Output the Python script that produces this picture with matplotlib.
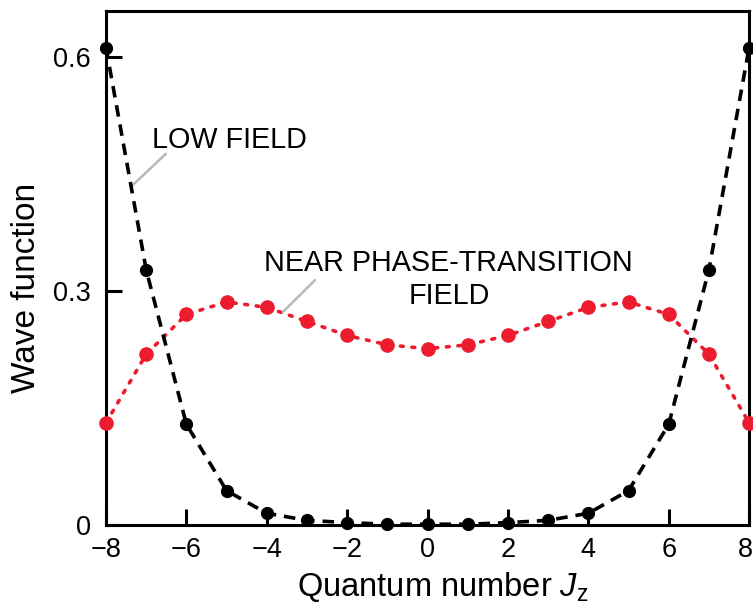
import numpy as np
import matplotlib.pyplot as plt
from matplotlib.transforms import ScaledTranslation

plt.rcParams['font.family'] = ['Liberation Sans', 'DejaVu Sans']
plt.rcParams['mathtext.fontset'] = 'custom'
plt.rcParams['mathtext.rm'] = 'Liberation Sans'
plt.rcParams['mathtext.it'] = 'Liberation Sans:italic'

# quantum number Jz and wave function amplitudes
jz = np.arange(-8, 9)
low_field = [0.612, 0.327, 0.129, 0.044, 0.015, 0.006, 0.003, 0.001, 0.001,
             0.001, 0.003, 0.006, 0.015, 0.044, 0.129, 0.327, 0.612]
near_transition = [0.131, 0.219, 0.270, 0.286, 0.279, 0.261, 0.243, 0.231, 0.226,
                   0.231, 0.243, 0.261, 0.279, 0.286, 0.270, 0.219, 0.131]

xticks = [-8, -6, -4, -2, 0, 2, 4, 6, 8]
xticklabels = ['\u22128', '\u22126', '\u22124', '\u22122', '0', '2', '4', '6', '8']
yticks = [0, 0.3, 0.6]
yticklabels = ['0', '0.3', '0.6']

fig = plt.figure(figsize=(7.53, 6.07), dpi=100)
ax = fig.add_axes([0.1408, 0.1351, 0.854, 0.8468])

red = '#ec1c2e'
ax.plot(jz, near_transition, color=red, lw=2.6, linestyle=(0, (0.8, 2.4)),
        dash_capstyle='round', marker='o', ms=9.5, mfc=red, mec=red, zorder=3,
        clip_on=False)
ax.plot(jz, low_field, color='black', lw=2.6, linestyle=(0, (3.2, 2.2)),
        marker='o', ms=8.5, mfc='black', mec='black', zorder=4, clip_on=False)

# leader lines and labels
gray = '#b8b8b8'
ax.annotate('', xy=(-7.33, 0.436), xytext=(-6.51, 0.476),
            arrowprops=dict(arrowstyle='-', color=gray, lw=1.8, shrinkA=0, shrinkB=0))
ax.text(-6.86, 0.494, 'LOW FIELD', fontsize=20.7, ha='left', va='center')

ax.annotate('', xy=(-3.60, 0.273), xytext=(-2.80, 0.314),
            arrowprops=dict(arrowstyle='-', color=gray, lw=1.8, shrinkA=0, shrinkB=0))
ax.text(0.53, 0.315, 'NEAR PHASE-TRANSITION\nFIELD', fontsize=20.7,
        ha='center', va='center', multialignment='center', linespacing=1.2)

ax.set_xlim(-8, 8)
ax.set_ylim(0, 0.659)
ax.set_xticks(xticks, xticklabels)
ax.set_yticks(yticks, yticklabels)
ax.tick_params(direction='in', length=11.5, width=2.2, labelsize=19.5)
ax.tick_params(axis='x', pad=9)
ax.tick_params(axis='y', pad=11)
for s in ax.spines.values():
    s.set_linewidth(2.2)

# keep the last x label inside the figure
last = ax.get_xticklabels()[-1]
last.set_transform(last.get_transform() + ScaledTranslation(-4 / 100, 0, fig.dpi_scale_trans))

ax.set_xlabel(r'Quantum number $\mathit{J}_\mathrm{z}$', fontsize=23.5)
ax.set_ylabel('Wave function', fontsize=24)
ax.xaxis.set_label_coords(0.524, -0.088)
ax.yaxis.set_label_coords(-0.1, 0.461)

fig.savefig('out.png', dpi=100)
